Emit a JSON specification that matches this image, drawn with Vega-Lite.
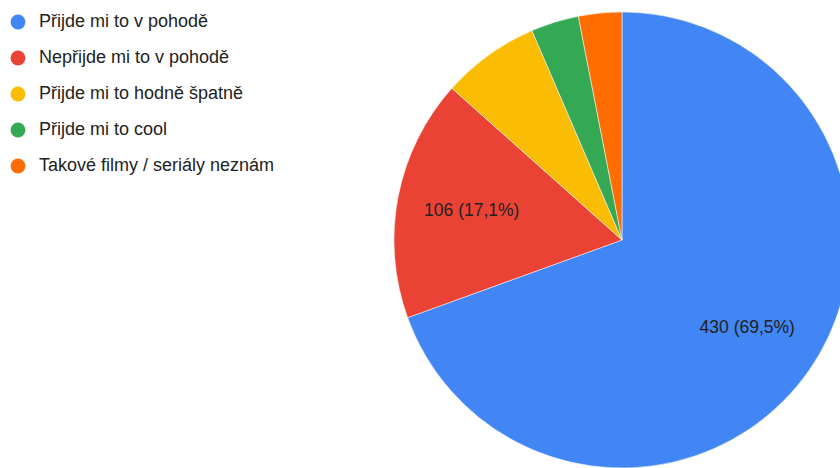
{
  "$schema": "https://vega.github.io/schema/vega-lite/v6.json",
  "width": 1244,
  "height": 480,
  "autosize": {"type": "none"},
  "padding": 0,
  "background": "white",
  "config": {"view": {"stroke": null}, "font": "Liberation Sans"},
  "data": {
    "values": [
      {"odpoved": "Přijde mi to v pohodě", "pocet": 430, "popisek": "430 (69,5%)"},
      {"odpoved": "Nepřijde mi to v pohodě", "pocet": 106, "popisek": "106 (17,1%)"},
      {"odpoved": "Přijde mi to hodně špatně", "pocet": 43, "popisek": ""},
      {"odpoved": "Přijde mi to cool", "pocet": 21, "popisek": ""},
      {"odpoved": "Takové filmy / seriály neznám", "pocet": 19, "popisek": ""}
    ]
  },
  "encoding": {
    "theta": {"field": "pocet", "type": "quantitative", "stack": true},
    "order": {"field": "pocet", "type": "quantitative", "sort": "descending"}
  },
  "layer": [
    {
      "mark": {"type": "arc", "outerRadius": 228, "stroke": "white", "strokeWidth": 0.5},
      "encoding": {
        "color": {
          "field": "odpoved",
          "type": "nominal",
          "scale": {
            "domain": ["Přijde mi to v pohodě", "Nepřijde mi to v pohodě", "Přijde mi to hodně špatně", "Přijde mi to cool", "Takové filmy / seriály neznám"],
            "range": ["#4285F4", "#EA4335", "#FBBC04", "#34A853", "#FF6D01"]
          },
          "legend": {
            "title": null,
            "orient": "none",
            "legendX": 9,
            "legendY": 13,
            "padding": 0,
            "symbolType": "circle",
            "symbolSize": 220,
            "symbolStrokeWidth": 0,
            "labelFontSize": 18,
            "labelColor": "#222222",
            "labelFont": "Liberation Sans",
            "labelOffset": 12,
            "rowPadding": 18,
            "labelLimit": 400
          }
        }
      }
    },
    {
      "mark": {"type": "text", "radius": 153, "fontSize": 17.5, "color": "#222222", "font": "Liberation Sans"},
      "encoding": {
        "text": {"field": "popisek", "type": "nominal"}
      }
    }
  ]
}
